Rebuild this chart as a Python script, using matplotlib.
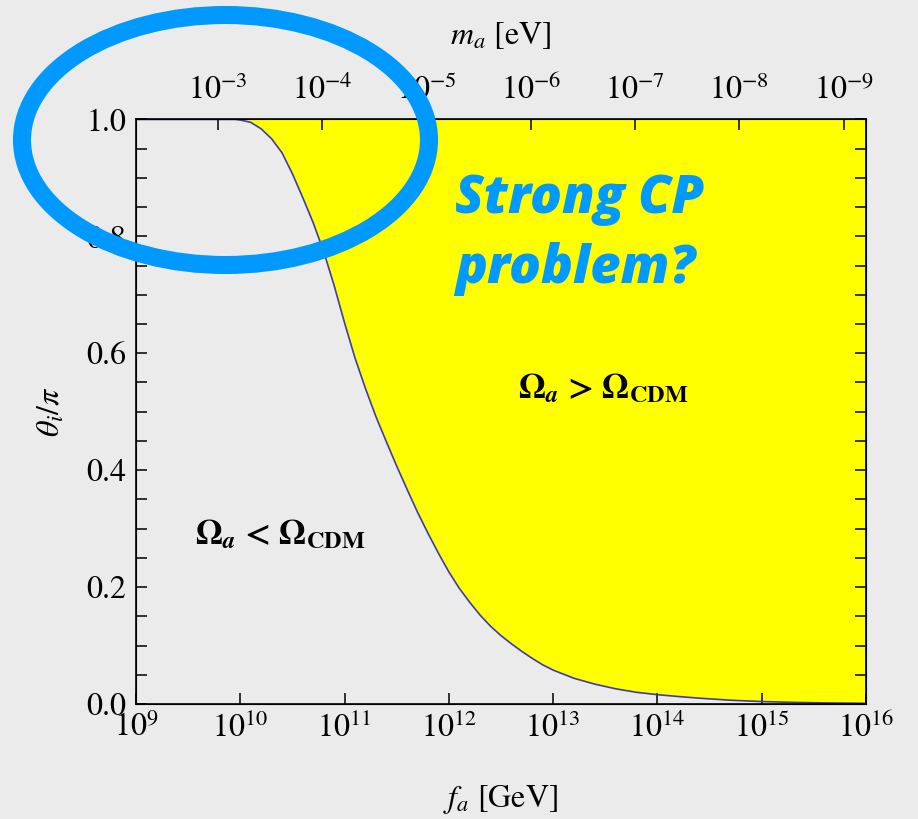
import numpy as np
import matplotlib.pyplot as plt
from matplotlib.patches import Ellipse
from matplotlib.ticker import FixedLocator, FixedFormatter, NullLocator

plt.rcParams['font.family'] = ['STIXGeneral', 'DejaVu Serif']
plt.rcParams['mathtext.fontset'] = 'stix'

# boundary Omega_a = Omega_CDM
fa_exp = [9.0, 9.95, 10.0, 10.1, 10.2, 10.3, 10.4, 10.5, 10.6, 10.7, 10.8, 10.9,
          11.0, 11.1, 11.2, 11.3, 11.4, 11.5, 11.6, 11.7, 11.8, 11.9, 12.0,
          12.1, 12.2, 12.3, 12.4, 12.5, 12.6, 12.7, 12.8, 12.9, 13.0, 13.2,
          13.4, 13.6, 13.8, 14.0, 14.2, 14.4, 14.7, 15.0, 15.3, 15.6, 16.0]
theta = [1.0, 1.0, 0.999, 0.995, 0.984, 0.967, 0.943, 0.907, 0.866, 0.823, 0.774, 0.716,
         0.652, 0.592, 0.540, 0.492, 0.449, 0.407, 0.367, 0.328, 0.292, 0.258, 0.226,
         0.198, 0.174, 0.152, 0.133, 0.117, 0.103, 0.090, 0.078, 0.067, 0.058, 0.044,
         0.034, 0.026, 0.020, 0.016, 0.0128, 0.010, 0.0065, 0.0042, 0.0028, 0.0019, 0.0012]

x_ticks = [9, 10, 11, 12, 13, 14, 15, 16]
m_ticks = [-3, -4, -5, -6, -7, -8, -9]
y_ticks = [0.0, 0.2, 0.4, 0.6, 0.8, 1.0]
m_fa = 6.1e6        # m_a [eV] * f_a [GeV]

bg = '#ebebeb'
fa = 10.0 ** np.array(fa_exp)

fig = plt.figure(figsize=(9.18, 8.19), dpi=100, facecolor=bg)
ax = fig.add_axes([0.1481, 0.1404, 0.7953, 0.7138])
ax.set_facecolor(bg)

ax.fill_between(fa, theta, 1.0, color='#ffff00', lw=0)
ax.plot(fa, theta, color='#3c3caa', lw=1.2)

ax.set_xscale('log')
ax.set_xlim(1e9, 1e16)
ax.set_ylim(0, 1)
ax.xaxis.set_major_locator(FixedLocator([10.0 ** k for k in x_ticks]))
ax.xaxis.set_major_formatter(FixedFormatter([r'$10^{%d}$' % k for k in x_ticks]))
ax.xaxis.set_minor_locator(NullLocator())
ax.set_yticks(y_ticks)
ax.set_yticklabels(['%.1f' % v for v in y_ticks])
ax.set_yticks(np.arange(0, 1.0001, 0.05), minor=True)
ax.tick_params(axis='both', which='both', direction='in', length=8, width=1.1,
               labelsize=23, color='black')
ax.tick_params(axis='y', which='both', right=True, pad=7)
ax.tick_params(axis='x', which='both', top=False, pad=6)
for s in ax.spines.values():
    s.set_linewidth(1.2)

ax.set_xlabel(r'$f_a$ [GeV]', fontsize=23, labelpad=28)
ax.set_ylabel(r'$\theta_i/\pi$', fontsize=23, labelpad=14)

ax2 = ax.twiny()
ax2.set_xscale('log')
ax2.set_xlim(m_fa / 1e9, m_fa / 1e16)
ax2.xaxis.set_major_locator(FixedLocator([10.0 ** k for k in m_ticks]))
ax2.xaxis.set_major_formatter(FixedFormatter([r'$10^{%d}$' % k for k in m_ticks]))
ax2.xaxis.set_minor_locator(NullLocator())
ax2.tick_params(axis='x', which='both', direction='in', length=8, width=1.1,
                labelsize=23, pad=10)
ax2.set_xlabel(r'$m_a$ [eV]', fontsize=23, labelpad=22)

ax.text(10 ** 10.38, 0.289, r'$\mathbf{\Omega}_{\mathbfit{a}}\ $<$\ \mathbf{\Omega}_{\mathbf{CDM}}$',
        fontsize=25, fontweight='bold', ha='center', va='center')
ax.text(10 ** 13.48, 0.54, r'$\mathbf{\Omega}_{\mathbfit{a}}\ $>$\ \mathbf{\Omega}_{\mathbf{CDM}}$',
        fontsize=25, fontweight='bold', ha='center', va='center')

ax.text(10 ** 12.06, 0.84, 'Strong CP', fontsize=38, family='Open Sans', fontweight='heavy',
        style='italic', color='#0099ff', ha='left', va='baseline')
ax.text(10 ** 12.06, 0.72, 'problem?', fontsize=38, family='Open Sans', fontweight='heavy',
        style='italic', color='#0099ff', ha='left', va='baseline')

ring = Ellipse((225.5 / 918, 1 - 140 / 819), 407 / 918, 250 / 819,
               transform=fig.transFigure, fill=False, edgecolor='#0099ff', lw=13, zorder=10)
fig.add_artist(ring)

fig.savefig('out.png', dpi=100, facecolor=bg)
